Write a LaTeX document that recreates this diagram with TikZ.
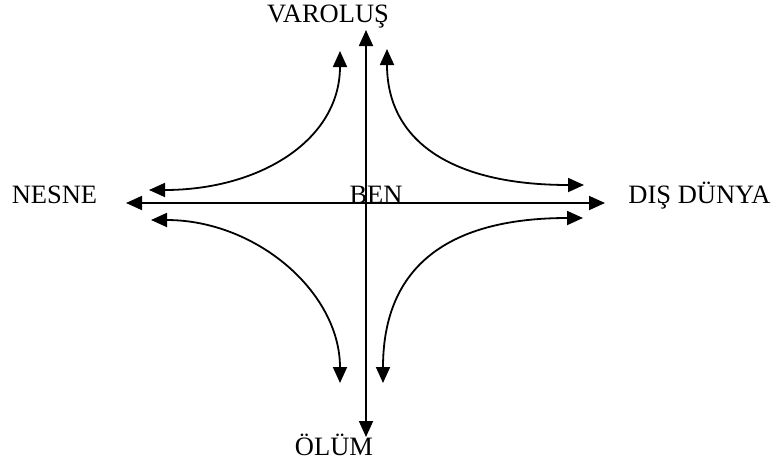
\documentclass[tikz,border=0pt]{standalone}
\usepackage{fontspec}
\setmainfont{Liberation Serif}
\usetikzlibrary{arrows.meta}
\begin{document}
\begin{tikzpicture}[x=1pt,y=-1pt,
  lbl/.style={anchor=base,inner sep=0pt,font=\fontsize{26.5}{30}\selectfont},
  arr/.style={line width=1.8pt,{Triangle[length=16pt,width=14pt]}-{Triangle[length=16pt,width=14pt]}}]
\useasboundingbox (0,0) rectangle (779,461);
% labels
\node[lbl] (var) at (328,22) {VAROLUŞ};
\node[lbl] (nes) at (54.5,203) {NESNE};
\node[lbl] (dis) at (699.5,203) {DIŞ DÜNYA};
\node[lbl] (olu) at (334,455) {ÖLÜM};
\node[lbl] (ben) at (376,203) {BEN};
% axis ends
\coordinate (L) at (126,203);
\coordinate (R) at (605,203);
\coordinate (T) at (366,30);
\coordinate (B) at (366,437);
\draw[arr] (L) -- (R);
\draw[arr] (T) -- (B);
% curved arrow ends
\coordinate (tl1) at (340,51);
\coordinate (tl2) at (149,190);
\coordinate (tr1) at (387,49);
\coordinate (tr2) at (584,185);
\coordinate (bl1) at (151,220);
\coordinate (bl2) at (340,383);
\coordinate (br1) at (383,383);
\coordinate (br2) at (583,218);
\draw[arr] (tl1) .. controls (340,140) and (260,190) .. (tl2);
\draw[arr] (tr1) .. controls (387,140) and (450,185) .. (tr2);
\draw[arr] (bl1) .. controls (256,220) and (340,292) .. (bl2);
\draw[arr] (br1) .. controls (383,265) and (450,218) .. (br2);
\end{tikzpicture}
\end{document}
